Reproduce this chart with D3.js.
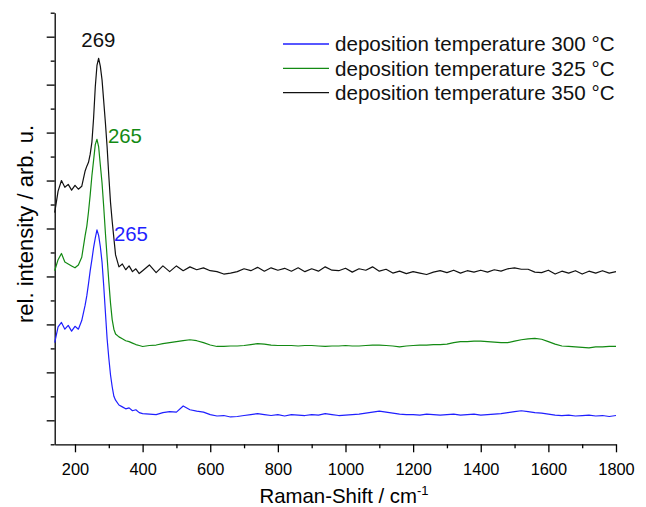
<!DOCTYPE html>
<html>
<head>
<meta charset="utf-8">
<script src="https://cdn.jsdelivr.net/npm/d3@7"></script>
<style>
  body { margin: 0; background: #fff; }
  svg { font-family: "Liberation Sans", Arial, sans-serif; }
</style>
</head>
<body>
<div id="chart"></div>
<script>
// Raman shift grid (cm-1) shared by the three spectra
let shift = [140, 150, 160, 170, 180, 190, 200, 210, 220,
    230, 235, 240, 245, 250, 255, 260, 265, 270, 275, 280, 285, 290, 295, 300, 305, 310, 315, 320,
    330, 340, 350, 360, 370, 380, 390, 400,
    420, 440, 460, 480, 500, 520, 540, 560, 580, 600, 620, 640, 660, 680, 700, 720, 740, 760, 780, 800,
    820, 840, 860, 880, 900, 920, 940, 960, 980, 1000, 1020, 1040, 1060, 1080, 1100, 1120, 1140, 1160,
    1180, 1200, 1220, 1240, 1260, 1280, 1300, 1320, 1340, 1360, 1380, 1400, 1420, 1440, 1460, 1480,
    1500, 1520, 1540, 1560, 1580, 1600, 1620, 1640, 1660, 1680, 1700, 1720, 1740, 1760, 1780, 1800]

// offset intensities (arb. u.)
let temp300 = [1.62, 1.95, 2.04, 1.90, 1.98, 1.86, 1.96, 1.90, 2.08,
    2.40, 2.60, 2.85, 3.12, 3.35, 3.60, 3.80, 3.97, 3.85, 3.62, 3.30, 2.80, 2.25, 1.70, 1.30, 0.95, 0.70, 0.50, 0.42,
    0.32, 0.28, 0.24, 0.26, 0.20, 0.22, 0.16, 0.14,
    0.13, 0.12, 0.16, 0.18, 0.17, 0.30, 0.22, 0.19, 0.17, 0.12, 0.09, 0.10, 0.07, 0.08, 0.10, 0.12, 0.14, 0.12, 0.10, 0.12,
    0.09, 0.12, 0.11, 0.10, 0.12, 0.11, 0.14, 0.12, 0.10, 0.11, 0.12, 0.13, 0.15, 0.17, 0.19, 0.17, 0.15, 0.13,
    0.12, 0.12, 0.11, 0.13, 0.12, 0.11, 0.12, 0.13, 0.11, 0.12, 0.13, 0.11, 0.12, 0.13, 0.14, 0.16,
    0.18, 0.20, 0.18, 0.16, 0.15, 0.13, 0.11, 0.10, 0.11, 0.09, 0.10, 0.11, 0.09, 0.10, 0.08, 0.10]

let temp325 = [3.12, 3.35, 3.48, 3.30, 3.26, 3.22, 3.18, 3.24, 3.40,
    3.85, 4.05, 4.35, 4.70, 5.10, 5.42, 5.75, 5.86, 5.70, 5.32, 4.95, 4.45, 3.90, 3.40, 2.90, 2.45, 2.10, 1.90, 1.80,
    1.74, 1.70, 1.66, 1.64, 1.61, 1.58, 1.56, 1.54,
    1.56, 1.57, 1.60, 1.62, 1.64, 1.66, 1.68, 1.66, 1.62, 1.57, 1.54, 1.54, 1.55, 1.55, 1.56, 1.58, 1.60, 1.59, 1.57, 1.56,
    1.56, 1.56, 1.55, 1.56, 1.56, 1.55, 1.54, 1.55, 1.55, 1.56, 1.55, 1.55, 1.56, 1.57, 1.57, 1.56, 1.55, 1.53,
    1.55, 1.56, 1.57, 1.57, 1.58, 1.58, 1.59, 1.62, 1.64, 1.64, 1.65, 1.65, 1.64, 1.63, 1.62, 1.62,
    1.65, 1.68, 1.70, 1.71, 1.69, 1.64, 1.59, 1.55, 1.54, 1.53, 1.52, 1.51, 1.53, 1.53, 1.54, 1.54]

let temp350 = [4.33, 4.78, 5.00, 4.86, 4.92, 4.80, 4.90, 4.82, 4.88,
    5.20, 5.30, 5.38, 5.55, 5.80, 6.30, 6.95, 7.40, 7.55, 7.38, 7.10, 6.65, 6.20, 5.70, 5.10, 4.55, 4.15, 3.80, 3.45,
    3.20, 3.26, 3.14, 3.22, 3.10, 3.16, 3.06, 3.12,
    3.24, 3.08, 3.22, 3.10, 3.22, 3.12, 3.20, 3.14, 3.18, 3.12, 3.10, 3.05, 3.07, 3.10, 3.16, 3.12, 3.19, 3.11, 3.18, 3.13,
    3.17, 3.11, 3.18, 3.10, 3.16, 3.11, 3.20, 3.13, 3.12, 3.17, 3.09, 3.16, 3.13, 3.20, 3.11, 3.15, 3.07, 3.11,
    3.06, 3.10, 3.07, 3.04, 3.09, 3.12, 3.08, 3.13, 3.07, 3.12, 3.09, 3.13, 3.09, 3.14, 3.11, 3.16,
    3.18, 3.15, 3.15, 3.09, 3.08, 3.13, 3.05, 3.11, 3.07, 3.12, 3.05, 3.11, 3.07, 3.12, 3.07, 3.10]

let seriesNames = ['deposition temperature 300 °C', 'deposition temperature 325 °C', 'deposition temperature 350 °C']
let seriesColors = ['#1f1fff', '#138a13', '#111111']

// peak annotations: [shift, intensity, label]
let peaks = [[265, 3.97, '265'], [265, 5.86, '265'], [269, 7.55, '269']]

let xTicks = [200, 400, 600, 800, 1000, 1200, 1400, 1600, 1800]
let xMinor = [300, 500, 700, 900, 1100, 1300, 1500, 1700]
let yTicks = [0, 1, 2, 3, 4, 5, 6, 7, 8]
let yMinor = [-0.5, 0.5, 1.5, 2.5, 3.5, 4.5, 5.5, 6.5, 7.5, 8.5]

function onload() {
    let svg = d3.select('#chart').append('svg')
        .attr('width', 646)
        .attr('height', 507)

    let x = d3.scaleLinear().domain([140, 1800]).range([54.7, 616])
    let y = d3.scaleLinear().domain([-0.5, 8.5]).range([444.3, 12.7])

    // axes
    let gx = svg.append('g').attr('transform', 'translate(0,444.3)')
    gx.call(d3.axisBottom(x).tickValues(xTicks).tickFormat(d3.format('d'))
        .tickSize(8).tickSizeOuter(0).tickPadding(11))
    gx.append('g').call(d3.axisBottom(x).tickValues(xMinor).tickSize(4).tickFormat(''))
        .select('.domain').remove()

    let gy = svg.append('g').attr('transform', 'translate(54.7,0)')
    gy.call(d3.axisLeft(y).tickValues(yTicks).tickSize(8).tickSizeOuter(0).tickFormat(''))
    gy.append('g').call(d3.axisLeft(y).tickValues(yMinor).tickSize(4).tickFormat(''))
        .select('.domain').remove()

    svg.selectAll('.domain, .tick line').attr('stroke', '#000').attr('stroke-width', 1.3)
    gx.selectAll('.tick text')
        .attr('font-size', 16.4)
        .attr('font-family', '"Liberation Sans", Arial, sans-serif')
        .attr('fill', '#000')

    // spectra
    let data = [temp300, temp325, temp350]
    let line = d3.line()
        .x((d, i) => x(shift[i]))
        .y(d => y(d))

    svg.selectAll('path.spectrum')
        .data(data)
        .enter()
        .append('path')
        .attr('class', 'spectrum')
        .attr('d', line)
        .attr('fill', 'none')
        .attr('stroke', (d, i) => seriesColors[i])
        .attr('stroke-width', 1.2)
        .attr('stroke-linejoin', 'round')

    // peak labels
    let labelOffsets = [[34, 11], [28, 4], [0, -11]]
    svg.selectAll('text.peak')
        .data(peaks)
        .enter()
        .append('text')
        .attr('class', 'peak')
        .attr('x', (d, i) => x(d[0]) + labelOffsets[i][0])
        .attr('y', (d, i) => y(d[1]) + labelOffsets[i][1])
        .attr('text-anchor', 'middle')
        .attr('font-size', 20.4)
        .attr('fill', (d, i) => seriesColors[i])
        .text(d => d[2])

    // legend
    let legend = svg.append('g')
    seriesNames.forEach((name, i) => {
        let ly = 44 + i * 24.3
        legend.append('line')
            .attr('x1', 283).attr('x2', 329)
            .attr('y1', ly).attr('y2', ly)
            .attr('stroke', seriesColors[i])
            .attr('stroke-width', 1.3)
        legend.append('text')
            .attr('x', 335).attr('y', ly)
            .attr('dy', '0.35em')
            .attr('font-size', 20.6)
            .attr('fill', '#111')
            .text(name)
    })

    // axis titles
    let xt = svg.append('text')
        .attr('x', 344).attr('y', 503)
        .attr('text-anchor', 'middle')
        .attr('font-size', 20.4)
    xt.append('tspan').text('Raman-Shift / cm')
    xt.append('tspan').attr('font-size', 13).attr('dy', -8).text('-1')

    svg.append('text')
        .attr('transform', 'translate(33,224) rotate(-90)')
        .attr('text-anchor', 'middle')
        .attr('font-size', 22)
        .text('rel. intensity / arb. u.')
}
onload()
</script>
</body>
</html>
